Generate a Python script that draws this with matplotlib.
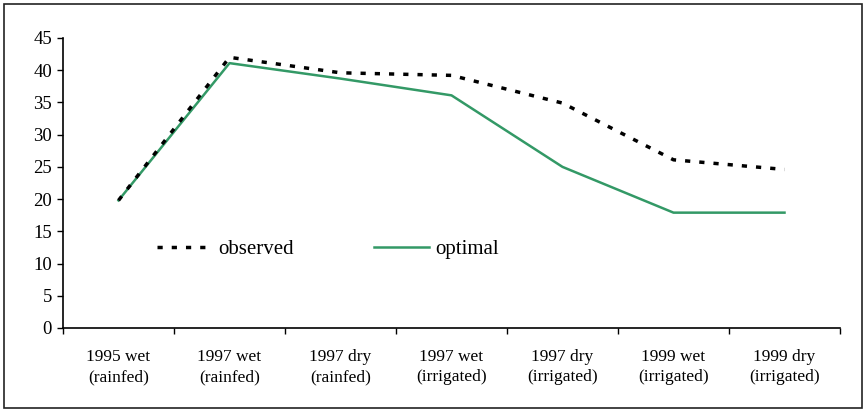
import numpy as np
import matplotlib
matplotlib.use("Agg")
import matplotlib.pyplot as plt
from matplotlib.patches import Rectangle

categories = ["1995 wet\n(rainfed)", "1997 wet\n(rainfed)", "1997 dry\n(rainfed)",
              "1997 wet\n(irrigated)", "1997 dry\n(irrigated)", "1999 wet\n(irrigated)",
              "1999 dry\n(irrigated)"]
observed = [19.8, 42.0, 39.6, 39.2, 34.9, 26.1, 24.6]
optimal = [19.8, 41.1, 38.7, 36.1, 25.0, 17.9, 17.9]
y_ticks = [0, 5, 10, 15, 20, 25, 30, 35, 40, 45]

plt.rcParams['font.family'] = ['Liberation Serif', 'DejaVu Serif']

fig = plt.figure(figsize=(8.67, 4.12), dpi=100)
ax = fig.add_axes([63 / 867, 1 - 328 / 412, (840 - 63) / 867, (328 - 38) / 412])

x = np.arange(len(categories))
ax.plot(x, observed, color='black', lw=2.5, linestyle=(0, (1.5, 2.6)), label='observed', zorder=3)
ax.plot(x, optimal, color='#339966', lw=1.8, label='optimal', zorder=2)

ax.set_xlim(-0.5, len(categories) - 0.5)
ax.set_ylim(0, 45)
ax.set_yticks(y_ticks)
ax.set_yticklabels([str(v) for v in y_ticks], fontsize=13.5)
ax.set_xticks(x)
ax.set_xticklabels(categories, fontsize=12.5, linespacing=1.35)
ax.tick_params(axis='x', length=0, pad=15)
ax.set_xticks(np.arange(-0.5, len(categories), 1.0), minor=True)
ax.tick_params(axis='x', which='minor', direction='out', length=4, width=1)
ax.tick_params(axis='y', direction='out', length=4, width=1, pad=4)

for s in ['top', 'right']:
    ax.spines[s].set_visible(False)
for s in ['left', 'bottom']:
    ax.spines[s].set_linewidth(1.2)

leg = ax.legend(loc='center left', bbox_to_anchor=(0.0965, 0.27), ncol=2, frameon=False,
                fontsize=15, handlelength=2.65, handletextpad=0.3, columnspacing=3.85)

fig.patches.append(Rectangle((4 / 867, 4 / 412), 858 / 867, 404 / 412, transform=fig.transFigure,
                             fill=False, edgecolor='#222222', lw=1.2))

fig.savefig("out.png", dpi=100)
